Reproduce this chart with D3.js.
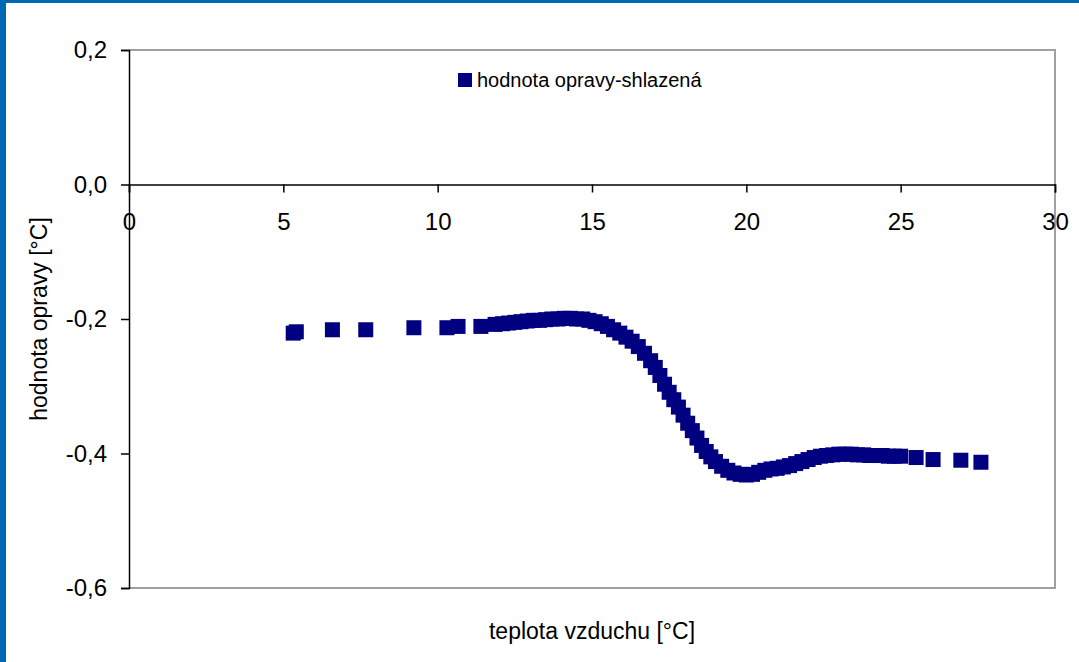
<!DOCTYPE html>
<html>
<head>
<meta charset="utf-8">
<script src="https://cdn.jsdelivr.net/npm/d3@7"></script>
<style>
  html, body { margin: 0; padding: 0; background: #fff; }
  svg { display: block; }
  text { font-family: "Liberation Sans", Arial, sans-serif; fill: #000; }
</style>
</head>
<body>
<script>
// ---- data ----
const seriesName = "hodnota opravy-shlazená";
const xTitle = "teplota vzduchu [°C]";
const yTitle = "hodnota opravy [°C]";
const xTicks = [0, 5, 10, 15, 20, 25, 30];
const yTicks = [0.2, 0.0, -0.2, -0.4, -0.6];

const xValues = [5.32, 5.42, 6.59, 7.67, 9.23, 10.3, 10.66, 11.4, 11.86,
  12.1, 12.3, 12.5, 12.7, 12.9, 13.1, 13.3, 13.5, 13.7, 13.9, 14.1, 14.3, 14.5, 14.7, 14.9,
  15.1, 15.3, 15.5, 15.7, 15.9, 16.1, 16.3, 16.5, 16.7, 16.9, 17.05, 17.2, 17.35, 17.5,
  17.65, 17.8, 17.95, 18.1, 18.25, 18.4, 18.55, 18.7, 18.85, 19.0, 19.2, 19.4, 19.6, 19.8,
  20.0, 20.2, 20.4, 20.6, 20.8, 21.0, 21.2, 21.4, 21.6, 21.8, 22.0, 22.2, 22.4, 22.6, 22.8,
  23.0, 23.2, 23.4, 23.6, 23.8, 24.0, 24.2, 24.4, 24.6, 24.8, 25.0,
  25.5, 26.05, 26.95, 27.6];
const yValues = [-0.221, -0.219, -0.216, -0.216, -0.213, -0.213, -0.211, -0.211, -0.208,
  -0.207, -0.206, -0.205, -0.204, -0.203, -0.202, -0.202, -0.201, -0.200, -0.200, -0.199, -0.199, -0.200, -0.200, -0.202,
  -0.204, -0.207, -0.211, -0.216, -0.221, -0.227, -0.233, -0.241, -0.251, -0.262, -0.272, -0.284, -0.297, -0.309,
  -0.320, -0.331, -0.343, -0.355, -0.366, -0.377, -0.388, -0.397, -0.405, -0.412, -0.419, -0.425, -0.429, -0.431,
  -0.432, -0.431, -0.428, -0.425, -0.423, -0.422, -0.420, -0.418, -0.415, -0.412, -0.409, -0.406, -0.404, -0.403, -0.402,
  -0.401, -0.401, -0.401, -0.402, -0.402, -0.403, -0.403, -0.403, -0.404, -0.404, -0.404,
  -0.406, -0.409, -0.410, -0.413];

// ---- layout ----
const W = 1079, H = 662;
const plot = { left: 129, right: 1055, top: 50, bottom: 588 };
const markerColor = "#000080";
const markerSize = 15;

const locale = d3.formatLocale({ decimal: ",", thousands: " ", grouping: [3], currency: ["", ""], minus: "-" });
const fmtY = locale.format(".1f");
const fmtX = locale.format("d");

const svg = d3.select("body").append("svg").attr("width", W).attr("height", H);

// frame border (blue)
svg.append("rect").attr("x", 0).attr("y", 0).attr("width", W).attr("height", 3).attr("fill", "#0068b2");
svg.append("rect").attr("x", 0).attr("y", 0).attr("width", 6).attr("height", H).attr("fill", "#0068b2");

const x = d3.scaleLinear().domain([0, 30]).range([plot.left, plot.right]);
const y = d3.scaleLinear().domain([-0.6, 0.2]).range([plot.bottom, plot.top]);

// plot area border (gray top/right/bottom)
svg.append("path")
  .attr("d", `M${plot.left},${plot.top}H${plot.right}V${plot.bottom}H${plot.left}`)
  .attr("fill", "none").attr("stroke", "#a0a0a0").attr("stroke-width", 2);

// y axis
const yAxis = svg.append("g")
  .attr("transform", `translate(${plot.left},0)`)
  .call(d3.axisLeft(y).tickValues(yTicks).tickFormat(fmtY).tickSize(8).tickPadding(14));
yAxis.select(".domain").attr("stroke", "#000").attr("stroke-width", 1.5);
yAxis.selectAll(".tick line").attr("stroke", "#000").attr("stroke-width", 1.5);
yAxis.selectAll(".tick text").attr("font-size", 24).attr("font-family", "Liberation Sans").attr("fill", "#000");

// x axis at y = 0
const xAxis = svg.append("g")
  .attr("transform", `translate(0,${y(0)})`)
  .call(d3.axisBottom(x).tickValues(xTicks).tickFormat(fmtX).tickSize(8).tickPadding(20));
xAxis.select(".domain").attr("stroke", "#000").attr("stroke-width", 1.5);
xAxis.selectAll(".tick line").attr("stroke", "#000").attr("stroke-width", 1.5);
xAxis.selectAll(".tick text").attr("font-size", 24).attr("font-family", "Liberation Sans").attr("fill", "#000");

// markers
const pts = xValues.map((v, i) => ({ x: v, y: yValues[i] }));
svg.append("g").selectAll("rect").data(pts).join("rect")
  .attr("x", d => x(d.x) - markerSize / 2)
  .attr("y", d => y(d.y) - markerSize / 2)
  .attr("width", markerSize).attr("height", markerSize)
  .attr("fill", markerColor);

// legend
const lg = svg.append("g").attr("transform", "translate(458,73)");
lg.append("rect").attr("width", 14).attr("height", 14).attr("fill", markerColor);
lg.append("text").attr("x", 19).attr("y", 14).attr("font-size", 20).text(seriesName);

// axis titles
svg.append("text").attr("x", (plot.left + plot.right) / 2).attr("y", 639)
  .attr("text-anchor", "middle").attr("font-size", 23).text(xTitle);
svg.append("text").attr("transform", `translate(47,${(plot.top + plot.bottom) / 2}) rotate(-90)`)
  .attr("text-anchor", "middle").attr("font-size", 23).text(yTitle);
</script>
</body>
</html>
